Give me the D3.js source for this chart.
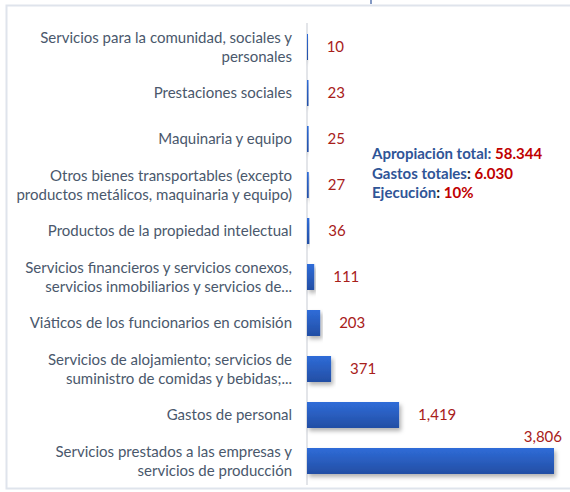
<!DOCTYPE html>
<html><head><meta charset="utf-8">
<script src="https://cdn.jsdelivr.net/npm/d3@7"></script>
<style>body{margin:0;background:#fff}svg{display:block}</style>
</head><body>
<svg id="c" width="570" height="492"></svg>
<script>
const categories = [
  "Servicios para la comunidad, sociales y|personales",
  "Prestaciones sociales",
  "Maquinaria y equipo",
  "Otros bienes transportables (excepto|productos metálicos, maquinaria y equipo)",
  "Productos de la propiedad intelectual",
  "Servicios financieros y servicios conexos,|servicios inmobiliarios y servicios de...",
  "Viáticos de los funcionarios en comisión",
  "Servicios de alojamiento; servicios de|suministro de comidas y bebidas;...",
  "Gastos de personal",
  "Servicios prestados a las empresas y|servicios de producción"
];
const values = [10, 23, 25, 27, 36, 111, 203, 371, 1419, 3806];
const noteLabels = ["Apropiación total", "Gastos totales", "Ejecución"];
const noteValues = ["58.344", "6.030", "10%"];

const svg = d3.select("#c");
const font = "Lato, 'Open Sans', sans-serif";

// frame
svg.append("rect").attr("x",6.5).attr("y",5.5).attr("width",600).attr("height",483)
  .attr("fill","none").attr("stroke","#dfe4ec").attr("stroke-width",2);
svg.append("line").attr("x1",371).attr("x2",371).attr("y1",0).attr("y2",4)
  .attr("stroke","#5a77b0").attr("stroke-width",1.5);

const defs = svg.append("defs");
const g = defs.append("linearGradient").attr("id","bg").attr("x1",0).attr("x2",0).attr("y1",0).attr("y2",1);
g.append("stop").attr("offset","0%").attr("stop-color","#2f6cd8");
g.append("stop").attr("offset","100%").attr("stop-color","#234ea4");
const f = defs.append("filter").attr("id","sh").attr("x","-10%").attr("y","-30%").attr("width","130%").attr("height","180%");
f.append("feDropShadow").attr("dx",2).attr("dy",3).attr("stdDeviation",2).attr("flood-color","#000").attr("flood-opacity",0.3);

const x = d3.scaleLinear().domain([0, d3.max(values)]).range([307, 554]);
const y = d3.scaleBand().domain(categories).range([24, 484]).paddingInner(0.435).paddingOuter(0.2175);

// axis line
svg.append("line").attr("x1",307).attr("x2",307).attr("y1",23).attr("y2",485)
  .attr("stroke","#dadde2").attr("stroke-width",1.5);

svg.selectAll("rect.bar").data(values).join("rect").attr("class","bar")
  .attr("x", x(0)).attr("y",(d,i)=>y(categories[i]))
  .attr("width", d=>Math.max(1, x(d)-x(0))).attr("height", y.bandwidth())
  .attr("fill","url(#bg)").attr("filter","url(#sh)");

// category labels
categories.forEach((c,i)=>{
  const lines = c.split("|");
  const cy = y(c) + y.bandwidth()/2;
  const t = svg.append("text").attr("text-anchor","end").attr("font-family",font)
    .attr("font-size",15).attr("fill","#4a586c");
  lines.forEach((l,j)=>{
    t.append("tspan").attr("x",292).attr("y", cy + (j-(lines.length-1)/2)*19).attr("dy","0.35em").text(l);
  });
});

// value labels
const fmt = d3.format(",");
values.forEach((v,i)=>{
  const cy = y(categories[i]) + y.bandwidth()/2;
  const last = i === values.length-1;
  svg.append("text").attr("font-family",font).attr("font-size",15).attr("fill","#a8201a")
    .attr("x", last ? x(v)+8 : x(v)+19).attr("y", last ? cy-24 : cy).attr("dy","0.35em")
    .attr("text-anchor", last ? "end" : "start").text(fmt(v));
});

// annotation
noteLabels.forEach((l,i)=>{
  const t = svg.append("text").attr("x",372).attr("y",154+i*19.5).attr("dy","0.35em")
    .attr("font-family",font).attr("font-size",15).attr("font-weight","bold");
  t.append("tspan").attr("fill","#2f5597").text(l);
  t.append("tspan").attr("fill", i===0 ? "#2f5597" : "#222").text(": ");
  t.append("tspan").attr("fill","#c00000").text(noteValues[i]);
});
</script>
</body></html>
